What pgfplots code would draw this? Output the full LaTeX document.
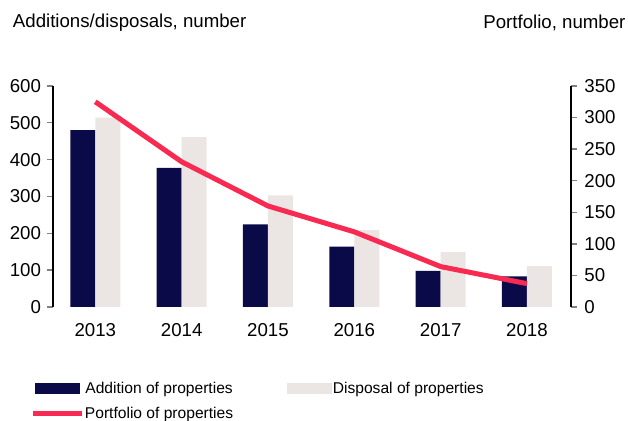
\documentclass[border=0pt]{standalone}
\usepackage{fontspec}
\setmainfont{Liberation Sans}
\usepackage{pgfplots}
\pgfplotsset{compat=1.18}
\definecolor{navy}{RGB}{10,10,72}
\definecolor{dispo}{RGB}{235,230,228}
\definecolor{redline}{RGB}{248,42,82}
\begin{document}
\begin{tikzpicture}
\path[use as bounding box] (0,0) rectangle (471pt,315.75pt);
\node[anchor=west,inner sep=0pt,font=\fontsize{14}{16}\selectfont] at (9.5pt,298.5pt) {Additions/disposals, number};
\node[anchor=east,inner sep=0pt,font=\fontsize{14}{16}\selectfont] at (469.3pt,298.5pt) {Portfolio, number};
\begin{axis}[
  at={(39.75pt,85.5pt)}, anchor=south west,
  scale only axis, width=388.5pt, height=165.75pt,
  xmin=-0.49, xmax=5.51, ymin=0, ymax=600,
  axis y line*=left, axis x line*=bottom,
  x axis line style={draw=none},
  xtick={0,1,2,3,4,5},
  xticklabels={2013,2014,2015,2016,2017,2018},
  xtick style={draw=none},
  ytick={0,100,200,300,400,500,600},
  tick align=outside, major tick length=4.5pt,
  y axis line style={line width=1pt}, ytick style={line width=1pt},
  ticklabel style={font=\fontsize{14}{16}\selectfont},
  /pgf/number format/assume math mode=true,
  xticklabel style={yshift=-4pt},
  yticklabel style={xshift=-1pt},
  legend columns=2,
  legend style={at={(-0.0444,-0.335)}, anchor=north west, draw=none, fill=none,
    inner sep=0pt, font=\fontsize{11.7}{14}\selectfont,
    /tikz/every even column/.append style={column sep=40pt},
    row sep=8pt, nodes={inner sep=0.5pt}},
]
\addplot[ybar, bar width=18.75pt, bar shift=-9.375pt, fill=navy, draw=none,
  legend image code/.code={\fill[navy] (1pt,-4pt) rectangle (34.75pt,4pt);}]
  coordinates {(0,480) (1,378) (2,224) (3,164) (4,98) (5,83)};
\addlegendentry{Addition of properties}
\addplot[ybar, bar width=18.75pt, bar shift=9.375pt, fill=dispo, draw=none,
  legend image code/.code={\fill[dispo] (1pt,-4pt) rectangle (34.75pt,4pt);}]
  coordinates {(0,514) (1,461) (2,303) (3,209) (4,149) (5,111)};
\addlegendentry{Disposal of properties}
\addlegendimage{legend image code/.code={\draw[redline, line width=3.75pt] (-0.5pt,0pt) -- (36.25pt,0pt);}}
\addlegendentry{Portfolio of properties}
\end{axis}
\begin{axis}[
  at={(39.75pt,85.5pt)}, anchor=south west,
  scale only axis, width=388.5pt, height=165.75pt,
  xmin=-0.49, xmax=5.51, ymin=0, ymax=350,
  axis y line*=right, axis x line=none,
  ytick={0,50,100,150,200,250,300,350},
  tick align=outside, major tick length=4.5pt,
  y axis line style={line width=1pt}, ytick style={line width=1pt},
  ticklabel style={font=\fontsize{14}{16}\selectfont},
  /pgf/number format/assume math mode=true,
  yticklabel style={xshift=2pt},
]
\addplot[redline, line width=3.75pt, mark=none]
  coordinates {(0,325) (1,230) (2,160) (3,119) (4,64) (5,37)};
\end{axis}
\end{tikzpicture}
\end{document}
